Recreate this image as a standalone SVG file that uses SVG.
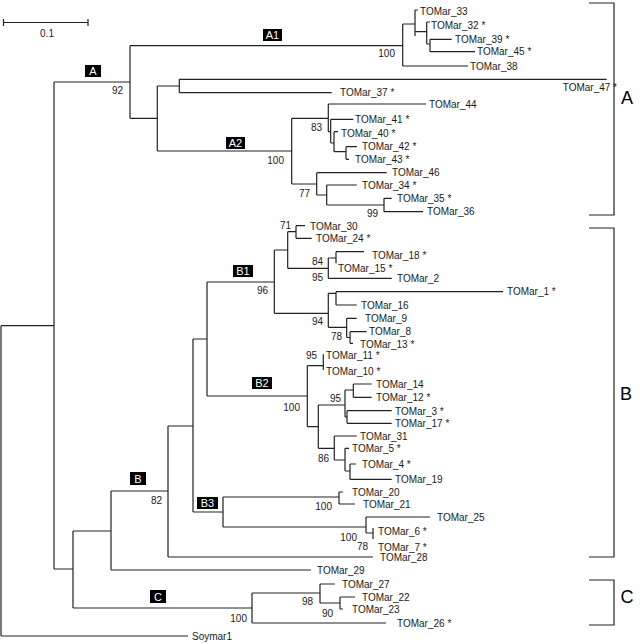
<svg xmlns="http://www.w3.org/2000/svg" width="640" height="644" viewBox="0 0 640 644">
<style>
.br{fill:none;stroke:#222;stroke-width:1.2}
.lf{font-family:"Liberation Sans",Arial,sans-serif;font-size:10px;fill:#1a1a1a}
.bs{font-family:"Liberation Sans",Arial,sans-serif;font-size:10px;fill:#1a1a1a;text-anchor:end}
.bx rect{fill:#000}
.bx text{font-family:"Liberation Sans",Arial,sans-serif;font-size:11px;fill:#fff;text-anchor:middle}
.big{font-family:"Liberation Sans",Arial,sans-serif;font-size:18px;fill:#000;text-anchor:middle}
</style>
<rect width="640" height="644" fill="#fff"/>
<g id="scale-bar">
<path class="br" d="M3.5,22.5 H88 M3.5,19 V26 M88,19 V26"/>
<text class="lf" x="47" y="37" text-anchor="middle">0.1</text>
</g>
<g id="connectors">
<path class="br" d="
M1,325.7 V636 M1,636 H188 M1,325.7 H54
M54,82 V569 M54,82 H130 M54,569 H73
M73,531 V608 M73,531 H111 M73,608 H252
M111,491 V570 M111,491 H168 M111,570 H311
M168,426 V557 M168,426 H193 M168,557 H373
M193,339 V512 M193,339 H207 M193,512 H223
M207,282 V396 M207,282 H274 M207,396 H307
M130,45.7 V118.3 M130,45.7 H402.7 M130,118.3 H157.3
M402.7,24 V66 M402.7,24 H415 M402.7,66 H468
M415,10 V36 M415,10 H418 M415,31.7 H426.7
M426.7,22 V44 M426.7,22 H430 M426.7,44 H430
M430,39.3 V51.7 M430,39.3 H451.7 M430,51.7 H475
M157.3,86 V151 M157.3,86 H179.3 M157.3,151 H291.7
M179.3,79.3 V92.7 M179.3,79.3 H606.7 M179.3,92.7 H331.7
M291.7,118.3 V184 M291.7,118.3 H328.3 M291.7,184 H316.7
M328.3,104 V131.7 M328.3,104 H426 M328.3,131.7 H330.7
M330.7,119.3 V143 M330.7,119.3 H353.3 M330.7,143 H334
M334,131.7 V151.7 M334,131.7 H338 M334,151.7 H346
M346,146.7 V159.3 M346,146.7 H357 M346,159.3 H349
M316.7,172.7 V195 M316.7,172.7 H386.7 M316.7,195 H326.7
M326.7,185 V205 M326.7,185 H356.7 M326.7,205 H384
M384,198.3 V211.7 M384,198.3 H391.7 M384,211.7 H423
M274.3,250 V313.3 M274.3,250 H287.7 M274.3,313.3 H328.3
M287.7,231.7 V268.3 M287.7,231.7 H296 M287.7,268.3 H328.3
M296,225.7 V238.3 M296,225.7 H305 M296,238.3 H311.7
M328.3,258 V278.3 M328.3,258 H336 M328.3,278.3 H391.7
M336,251.7 V263.3 M336,251.7 H364
M328.3,293.3 V327.3 M328.3,293.3 H336 M328.3,327.3 H346.7
M336,291.7 V305 M336,291.7 H503 M336,305 H356.7
M346.7,318.3 V337.5 M346.7,318.3 H356.7 M346.7,337.5 H350
M350,331.7 V343.3 M350,331.7 H366.7 M350,343.3 H353
M307.3,365.7 V426.7 M307.3,365.7 H323.3 M307.3,426.7 H318.3
M323.3,354.3 V370
M318.3,405 V448.3 M318.3,405 H345 M318.3,448.3 H334.3
M345,390 V417 M345,390 H353.3 M345,417 H347
M353.3,384 V397.3 M353.3,384 H371.7 M353.3,397.3 H371.7
M347,410.7 V423.3 M347,410.7 H391.7 M347,423.3 H391.7
M334.3,436 V460 M334.3,436 H356.7 M334.3,460 H345
M345,448.3 V471 M345,448.3 H349 M345,471 H350
M350,464 V479.3 M350,464 H356 M350,479.3 H391.7
M223,497 V527 M223,497 H339 M223,527 H366
M339,492 V504 M339,492 H343 M339,504 H355
M366,517 V533 M366,517 H430 M366,533 H373
M373,528 V539
M252,593 V623 M252,593 H320 M252,623 H386
M320,584 V603 M320,584 H335 M320,603 H340
M340,597 V609 M340,597 H355 M340,609 H343
"/>
<path class="br" d="M589,3 H614 V215 H589 M589,228 H614 V557 H589 M589,580 H614 V625 H589"/>
</g>
<g id="clade-A" class="bx"><rect x="85" y="65" width="16" height="12"/><text x="93" y="75">A</text></g>
<g id="clade-A1" class="bx"><rect x="263" y="29" width="19" height="12"/><text x="272.5" y="39">A1</text></g>
<g id="clade-A2" class="bx"><rect x="226" y="137" width="19" height="12"/><text x="235.5" y="147">A2</text></g>
<g id="clade-B" class="bx"><rect x="130" y="472" width="16" height="13"/><text x="138" y="482.5">B</text></g>
<g id="clade-B1" class="bx"><rect x="233" y="265" width="20" height="12"/><text x="243" y="275">B1</text></g>
<g id="clade-B2" class="bx"><rect x="252" y="377" width="20" height="12"/><text x="262" y="387">B2</text></g>
<g id="clade-B3" class="bx"><rect x="197" y="497" width="21" height="12"/><text x="207.5" y="507">B3</text></g>
<g id="clade-C" class="bx"><rect x="150" y="590" width="16" height="13"/><text x="158" y="600.5">C</text></g>
<g id="group-A"><text class="big" x="627" y="104">A</text></g>
<g id="group-B"><text class="big" x="626" y="400">B</text></g>
<g id="group-C"><text class="big" x="627" y="603">C</text></g>
<g id="bootstrap">
<text class="bs" x="123" y="94">92</text>
<text class="bs" x="395" y="57">100</text>
<text class="bs" x="322" y="131">83</text>
<text class="bs" x="284" y="164">100</text>
<text class="bs" x="310" y="197">77</text>
<text class="bs" x="378" y="217">99</text>
<text class="bs" x="291" y="229">71</text>
<text class="bs" x="323" y="265">84</text>
<text class="bs" x="323" y="281">95</text>
<text class="bs" x="268" y="294">96</text>
<text class="bs" x="323" y="325">94</text>
<text class="bs" x="342" y="340">78</text>
<text class="bs" x="317" y="359">95</text>
<text class="bs" x="300" y="411">100</text>
<text class="bs" x="341" y="402">95</text>
<text class="bs" x="329" y="462">86</text>
<text class="bs" x="162" y="504">82</text>
<text class="bs" x="332" y="510">100</text>
<text class="bs" x="357" y="541">100</text>
<text class="bs" x="368" y="550">78</text>
<text class="bs" x="313" y="605">98</text>
<text class="bs" x="333" y="617">90</text>
<text class="bs" x="247" y="622">100</text>
</g>
<g id="leaf-TOMar_33"><text class="lf" x="420" y="14.5">TOMar_33</text></g>
<g id="leaf-TOMar_32"><text class="lf" x="431" y="28.5">TOMar_32 *</text></g>
<g id="leaf-TOMar_39"><text class="lf" x="455" y="43">TOMar_39 *</text></g>
<g id="leaf-TOMar_45"><text class="lf" x="477" y="55">TOMar_45 *</text></g>
<g id="leaf-TOMar_38"><text class="lf" x="470" y="69.5">TOMar_38</text></g>
<g id="leaf-TOMar_47"><text class="lf" x="617" y="91" text-anchor="end">TOMar_47 *</text></g>
<g id="leaf-TOMar_37"><text class="lf" x="340" y="96">TOMar_37 *</text></g>
<g id="leaf-TOMar_44"><text class="lf" x="429" y="107.5">TOMar_44</text></g>
<g id="leaf-TOMar_41"><text class="lf" x="355" y="123">TOMar_41 *</text></g>
<g id="leaf-TOMar_40"><text class="lf" x="341" y="136.5">TOMar_40 *</text></g>
<g id="leaf-TOMar_42"><text class="lf" x="362" y="150">TOMar_42 *</text></g>
<g id="leaf-TOMar_43"><text class="lf" x="355" y="163">TOMar_43 *</text></g>
<g id="leaf-TOMar_46"><text class="lf" x="392" y="176">TOMar_46</text></g>
<g id="leaf-TOMar_34"><text class="lf" x="362" y="188.5">TOMar_34 *</text></g>
<g id="leaf-TOMar_35"><text class="lf" x="397" y="202">TOMar_35 *</text></g>
<g id="leaf-TOMar_36"><text class="lf" x="427" y="215">TOMar_36</text></g>
<g id="leaf-TOMar_30"><text class="lf" x="310" y="229.5">TOMar_30</text></g>
<g id="leaf-TOMar_24"><text class="lf" x="316" y="242">TOMar_24 *</text></g>
<g id="leaf-TOMar_18"><text class="lf" x="372" y="259">TOMar_18 *</text></g>
<g id="leaf-TOMar_15"><text class="lf" x="338" y="271.5">TOMar_15 *</text></g>
<g id="leaf-TOMar_2"><text class="lf" x="397" y="282">TOMar_2</text></g>
<g id="leaf-TOMar_1"><text class="lf" x="507" y="295">TOMar_1 *</text></g>
<g id="leaf-TOMar_16"><text class="lf" x="361" y="308.5">TOMar_16</text></g>
<g id="leaf-TOMar_9"><text class="lf" x="365" y="322">TOMar_9</text></g>
<g id="leaf-TOMar_8"><text class="lf" x="369" y="335">TOMar_8</text></g>
<g id="leaf-TOMar_13"><text class="lf" x="360" y="348">TOMar_13 *</text></g>
<g id="leaf-TOMar_11"><text class="lf" x="326" y="359">TOMar_11 *</text></g>
<g id="leaf-TOMar_10"><text class="lf" x="326" y="375">TOMar_10 *</text></g>
<g id="leaf-TOMar_14"><text class="lf" x="376" y="387.5">TOMar_14</text></g>
<g id="leaf-TOMar_12"><text class="lf" x="376" y="401">TOMar_12 *</text></g>
<g id="leaf-TOMar_3"><text class="lf" x="395" y="414.5">TOMar_3 *</text></g>
<g id="leaf-TOMar_17"><text class="lf" x="395" y="427">TOMar_17 *</text></g>
<g id="leaf-TOMar_31"><text class="lf" x="360" y="439.5">TOMar_31</text></g>
<g id="leaf-TOMar_5"><text class="lf" x="352" y="452">TOMar_5 *</text></g>
<g id="leaf-TOMar_4"><text class="lf" x="362" y="467.5">TOMar_4 *</text></g>
<g id="leaf-TOMar_19"><text class="lf" x="395" y="483">TOMar_19</text></g>
<g id="leaf-TOMar_20"><text class="lf" x="352" y="495.5">TOMar_20</text></g>
<g id="leaf-TOMar_21"><text class="lf" x="363" y="507.5">TOMar_21</text></g>
<g id="leaf-TOMar_25"><text class="lf" x="437" y="520.5">TOMar_25</text></g>
<g id="leaf-TOMar_6"><text class="lf" x="378" y="535">TOMar_6 *</text></g>
<g id="leaf-TOMar_7"><text class="lf" x="378" y="550.5">TOMar_7 *</text></g>
<g id="leaf-TOMar_28"><text class="lf" x="380" y="561">TOMar_28</text></g>
<g id="leaf-TOMar_29"><text class="lf" x="317" y="573.5">TOMar_29</text></g>
<g id="leaf-TOMar_27"><text class="lf" x="342" y="587.5">TOMar_27</text></g>
<g id="leaf-TOMar_22"><text class="lf" x="362" y="600.5">TOMar_22</text></g>
<g id="leaf-TOMar_23"><text class="lf" x="352" y="613">TOMar_23</text></g>
<g id="leaf-TOMar_26"><text class="lf" x="397" y="627">TOMar_26 *</text></g>
<g id="leaf-Soymar1"><text class="lf" x="192" y="639.5">Soymar1</text></g>
</svg>
